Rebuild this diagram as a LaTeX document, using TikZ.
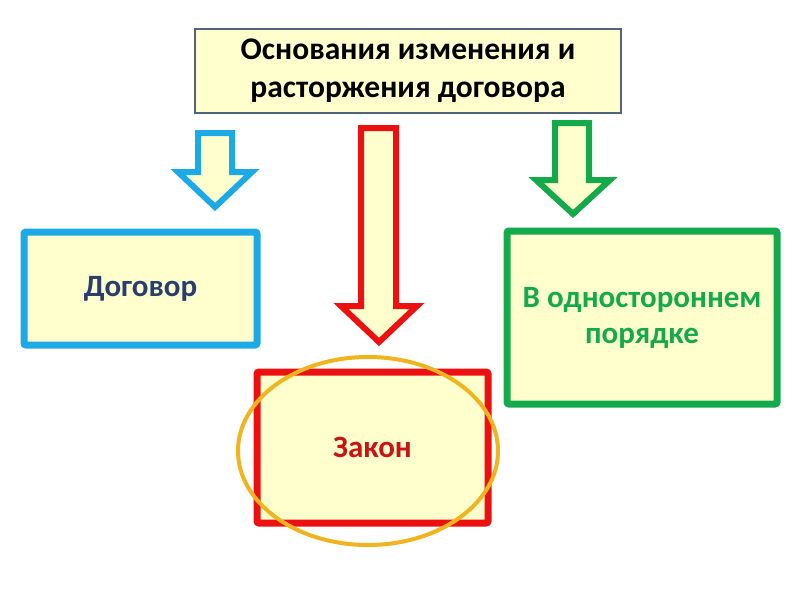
\documentclass[tikz,border=0pt]{standalone}
\usepackage{fontspec}
\setmainfont{Carlito}
\definecolor{paleyellow}{RGB}{255,255,206}
\definecolor{skyblue}{RGB}{28,170,230}
\definecolor{brightred}{RGB}{236,16,16}
\definecolor{leafgreen}{RGB}{20,170,75}
\definecolor{goldring}{RGB}{240,180,30}
\definecolor{navytext}{RGB}{40,62,110}
\definecolor{redtext}{RGB}{200,20,20}
\definecolor{slateedge}{RGB}{80,100,125}
\tikzset{
  box/.style={draw, line width=7pt, rounded corners=2pt, fill=paleyellow, rectangle, inner sep=0pt, font=\bfseries\fontsize{31}{36}\selectfont, align=center},
  blockarrow/.style={fill=paleyellow, line width=6pt, miter limit=10},
}
\begin{document}
\begin{tikzpicture}[x=1pt,y=-1pt]
\useasboundingbox (0,0) rectangle (800,600);
\fill[white] (0,0) rectangle (800,600);
% top box
\node[draw=slateedge, line width=2pt, fill=paleyellow, rectangle, inner sep=0pt,
  minimum width=426pt, minimum height=84pt, anchor=north west,
  font=\bfseries\fontsize{31.5}{38}\selectfont, align=center] (top) at (194,28)
  {Основания изменения и\\расторжения договора};
% arrows
\draw[blockarrow, draw=skyblue] (198,133) -- (232,133) -- (232,172) -- (252,172) -- (215,207) -- (178,172) -- (198,172) -- cycle;
\draw[blockarrow, draw=brightred] (361,128) -- (396,128) -- (396,306) -- (417,306) -- (379,342) -- (341,306) -- (361,306) -- cycle;
\draw[blockarrow, draw=leafgreen] (555,123) -- (589,123) -- (589,180) -- (610,180) -- (573,214) -- (536,180) -- (555,180) -- cycle;
% boxes
\node[box, draw=skyblue, text=navytext, minimum width=233pt, minimum height=113pt, anchor=north west] (dog) at (20.5,228.5) {Договор};
\node[box, draw=leafgreen, text=leafgreen, minimum width=270pt, minimum height=173pt, anchor=north west] (one) at (503.5,227.5) {В одностороннем\\порядке};
\node[box, draw=brightred, text=redtext, minimum width=231pt, minimum height=151pt, anchor=north west] (law) at (253.5,368.5) {Закон};
\draw[goldring, line width=4pt] (368,451) ellipse [x radius=130, y radius=94];
\end{tikzpicture}
\end{document}
